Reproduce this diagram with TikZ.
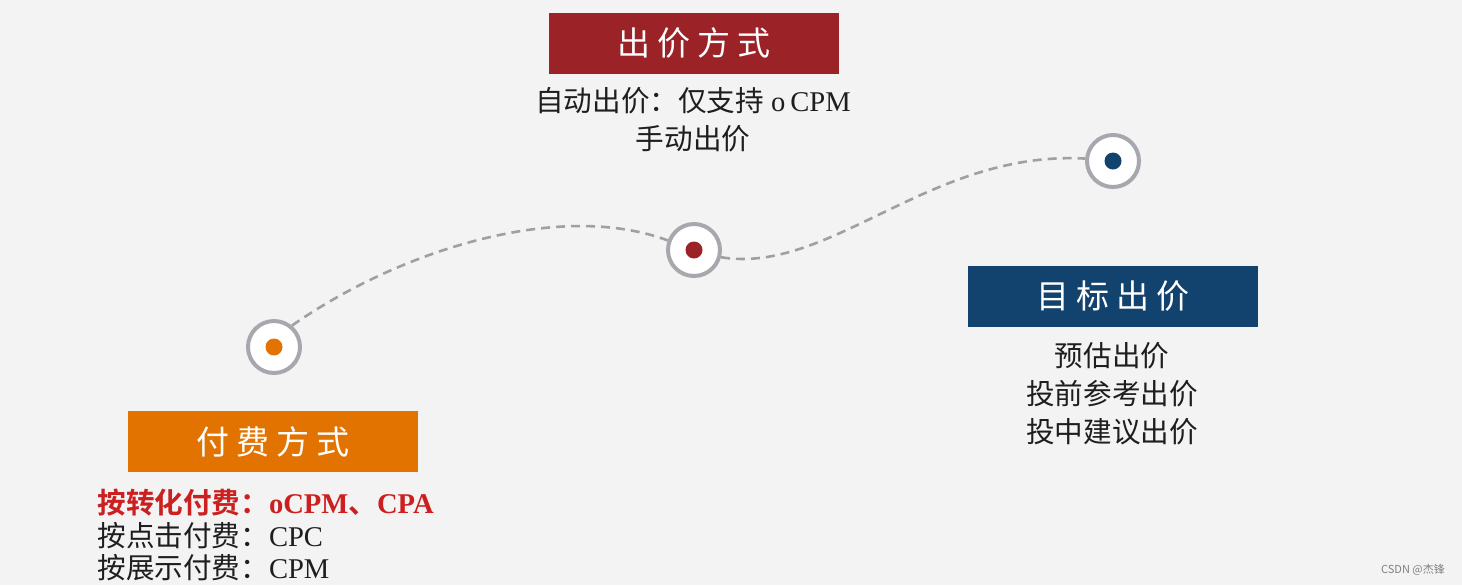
\documentclass[tikz,border=0pt]{standalone}
\usepackage{fontspec}
\setmainfont{Liberation Serif}
\newfontfamily\cjk{Noto Sans CJK SC}
\newfontfamily\cjkb{Noto Sans CJK SC}[BoldFont={* Bold}]
\definecolor{bgc}{HTML}{F3F3F3}
\definecolor{redbox}{HTML}{9B2226}
\definecolor{orangebox}{HTML}{E27300}
\definecolor{bluebox}{HTML}{12426E}
\definecolor{ringc}{HTML}{A6A8AE}
\definecolor{dashc}{HTML}{A0A0A4}
\definecolor{redtext}{HTML}{CC2020}
\definecolor{txt}{HTML}{1E1E1E}
\begin{document}
\begin{tikzpicture}[x=0.5pt,y=-0.5pt,
  headbox/.style={minimum width=145pt,minimum height=30.5pt,inner sep=0pt,text=white,font=\cjk\fontsize{16.5}{18}\selectfont},
  ring/.style={circle,draw=ringc,line width=2pt,fill=white,minimum size=26pt,inner sep=0pt},
  dotc/.style={circle,minimum size=8.5pt,inner sep=0pt},
  body/.style={text=txt,font=\fontsize{14.3}{16}\selectfont,inner sep=0pt},
  link/.style={draw=dashc,line width=1.3pt,dash pattern=on 4.5pt off 3pt}
]
\fill[bgc] (0,0) rectangle (1462,585);
\useasboundingbox (0,0) rectangle (1462,585);

% header boxes
\node[headbox,fill=redbox] (hred) at (694,43) {出\hspace{3.5pt}价\hspace{3.5pt}方\hspace{3.5pt}式};
\node[headbox,fill=orangebox] (horange) at (273,441.5) {付\hspace{3.5pt}费\hspace{3.5pt}方\hspace{3.5pt}式};
\node[headbox,fill=bluebox] (hblue) at (1113,296) {目\hspace{3.5pt}标\hspace{3.5pt}出\hspace{3.5pt}价};

% body texts
\node[body] (t1) at (693,101) {{\cjk 自动出价：仅支持} o\,CPM};
\node[body] (t2) at (693,139) {\cjk 手动出价};

\node[body,anchor=west,text=redtext] (p1) at (97,503) {{\cjkb\bfseries 按转化付费：}\textbf{oCPM{\cjkb\bfseries 、}CPA}};
\node[body,anchor=west] (p2) at (97,536) {{\cjk 按点击付费：}CPC};
\node[body,anchor=west] (p3) at (97,568) {{\cjk 按展示付费：}CPM};

\node[body] (g1) at (1112,356) {\cjk 预估出价};
\node[body] (g2) at (1112,394) {\cjk 投前参考出价};
\node[body] (g3) at (1112,432) {\cjk 投中建议出价};

% circles
\node[ring] (co) at (274,347) {};
\node[dotc,fill=orangebox] (do) at (co) {};
\node[ring] (cr) at (694,250) {};
\node[dotc,fill=redbox] (dr) at (cr) {};
\node[ring] (cb) at (1113,161) {};
\node[dotc,fill=bluebox] (db) at (cb) {};

% dashed connectors
\path[link] (co.50) .. controls (400,250) and (560,200) .. (cr.160);
\path[link] (cr.-15) .. controls (830,275) and (930,150) .. (cb.175);

% watermark
\node[text=gray,font=\cjk\fontsize{5.5}{6}\selectfont,inner sep=0pt] (wm) at (1413,570) {CSDN @杰锋};
\end{tikzpicture}
\end{document}
